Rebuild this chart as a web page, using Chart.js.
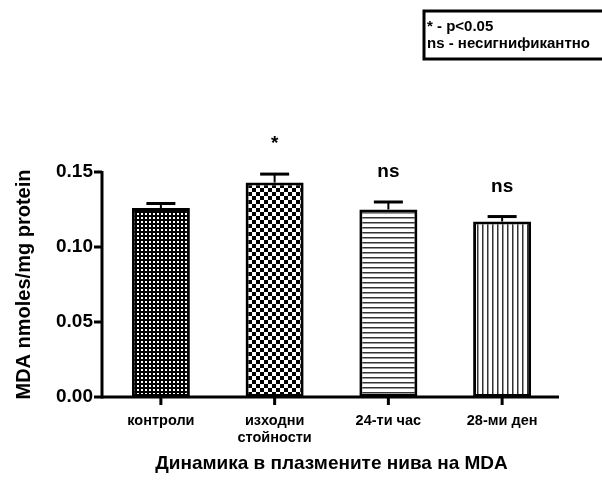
<!DOCTYPE html>
<html>
<head>
<meta charset="utf-8">
<script src="https://cdn.jsdelivr.net/npm/chart.js@4"></script>
<style>
  html, body { margin: 0; padding: 0; background: #fff; }
  #wrap { width: 602px; height: 497px; }
</style>
</head>
<body>
<div id="wrap"><canvas id="mdaChart" width="602" height="497"></canvas></div>
<script>
// chart data
const categories = [['контроли'], ['изходни', 'стойности'], ['24-ти час'], ['28-ми ден']];
const means = [0.126, 0.143, 0.125, 0.117];
const sems = [0.003, 0.0056, 0.005, 0.0033];
const marks = ['', '*', 'ns', 'ns'];
const yTicks = [0, 0.05, 0.10, 0.15];
const legendLines = ['* - p<0.05', 'ns - несигнификантно'];

const FONT = 'Arial, "Liberation Sans", sans-serif';

// fill patterns like the GraphPad bars
function makePattern(size, draw) {
  const c = document.createElement('canvas');
  c.width = size;
  c.height = size;
  const g = c.getContext('2d');
  draw(g, size);
  return g.createPattern(c, 'repeat');
}

const patterns = [
  // fine dotted
  makePattern(4, (g) => {
    g.fillStyle = '#000';
    g.fillRect(0, 0, 4, 4);
    g.fillStyle = '#fff';
    g.fillRect(1, 1, 2, 2);
  }),
  // checkerboard
  makePattern(8, (g) => {
    g.fillStyle = '#fff';
    g.fillRect(0, 0, 8, 8);
    g.fillStyle = '#000';
    g.fillRect(0, 0, 4, 4);
    g.fillRect(4, 4, 4, 4);
  }),
  // horizontal lines
  makePattern(5, (g) => {
    g.fillStyle = '#fff';
    g.fillRect(0, 0, 5, 5);
    g.fillStyle = '#333';
    g.fillRect(0, 2, 5, 1.5);
  }),
  // vertical lines
  makePattern(5, (g) => {
    g.fillStyle = '#fff';
    g.fillRect(0, 0, 5, 5);
    g.fillStyle = '#333';
    g.fillRect(2, 0, 1.5, 5);
  })
];

// axes, error bars, marks and the legend box
const extrasPlugin = {
  id: 'extras',
  afterDatasetsDraw(chart) {
    const ctx = chart.ctx;
    const x = chart.scales.x;
    const y = chart.scales.y;
    const meta = chart.getDatasetMeta(0);
    const axisX = chart.chartArea.left - 2;
    const y0 = y.getPixelForValue(0);

    ctx.save();
    ctx.strokeStyle = '#000';

    // error bars (upper half only)
    meta.data.forEach((bar, i) => {
      const top = y.getPixelForValue(means[i] + sems[i]);
      const half = bar.width / 4;
      ctx.lineWidth = 2;
      ctx.beginPath();
      ctx.moveTo(bar.x, bar.y);
      ctx.lineTo(bar.x, top);
      ctx.stroke();
      ctx.lineWidth = 3;
      ctx.beginPath();
      ctx.moveTo(bar.x - half, top);
      ctx.lineTo(bar.x + half, top);
      ctx.stroke();

      if (marks[i]) {
        ctx.fillStyle = '#000';
        ctx.font = 'bold 19px ' + FONT;
        ctx.textAlign = 'center';
        ctx.textBaseline = 'middle';
        ctx.fillText(marks[i], bar.x, top - 30);
      }
    });

    // y axis line + ticks
    ctx.lineWidth = 3;
    ctx.beginPath();
    ctx.moveTo(axisX, y.getPixelForValue(yTicks[yTicks.length - 1]) - 1);
    ctx.lineTo(axisX, y0 + 1.5);
    ctx.stroke();
    yTicks.forEach((v) => {
      const py = y.getPixelForValue(v);
      ctx.beginPath();
      ctx.moveTo(axisX - 8, py);
      ctx.lineTo(axisX, py);
      ctx.stroke();
    });

    // x axis line + ticks
    ctx.beginPath();
    ctx.moveTo(axisX, y0);
    ctx.lineTo(chart.chartArea.right, y0);
    ctx.stroke();
    categories.forEach((c, i) => {
      const px = x.getPixelForTick(i);
      ctx.beginPath();
      ctx.moveTo(px, y0);
      ctx.lineTo(px, y0 + 8);
      ctx.stroke();
    });

    // legend box (right edge runs off the picture)
    ctx.lineWidth = 3;
    ctx.strokeRect(424, 11, 190, 48);
    ctx.fillStyle = '#000';
    ctx.font = 'bold 15px ' + FONT;
    ctx.textAlign = 'left';
    ctx.textBaseline = 'middle';
    legendLines.forEach((t, i) => {
      ctx.fillText(t, 427, 27 + i * 17);
    });
    ctx.restore();
  }
};

new Chart(document.getElementById('mdaChart'), {
  type: 'bar',
  data: {
    labels: categories,
    datasets: [{
      data: means,
      backgroundColor: patterns,
      borderColor: '#000',
      borderWidth: 3,
      borderSkipped: false,
      categoryPercentage: 1,
      barPercentage: 0.51
    }]
  },
  options: {
    responsive: false,
    animation: false,
    events: [],
    layout: {
      padding: { top: 172, right: 43, bottom: 0, left: 0 }
    },
    plugins: {
      legend: { display: false },
      tooltip: { enabled: false }
    },
    scales: {
      x: {
        offset: true,
        grid: { display: false, drawTicks: false },
        border: { display: false },
        ticks: {
          color: '#000',
          padding: 15,
          font: { family: FONT, size: 14.5, weight: 'bold' }
        },
        title: {
          display: true,
          text: 'Динамика в плазмените нива на MDA',
          color: '#000',
          font: { family: FONT, size: 19, weight: 'bold' },
          padding: { top: 0, bottom: 22 }
        },
        afterFit(scale) {
          scale.height = 100;
        }
      },
      y: {
        min: 0,
        max: 0.15,
        grid: { display: false, drawTicks: false },
        border: { display: false },
        afterBuildTicks(scale) {
          scale.ticks = yTicks.map((v) => ({ value: v }));
        },
        ticks: {
          color: '#000',
          padding: 11,
          font: { family: FONT, size: 19, weight: 'bold' },
          callback: (v) => v.toFixed(2)
        },
        title: {
          display: true,
          text: 'MDA nmoles/mg protein',
          color: '#000',
          font: { family: FONT, size: 20, weight: 'bold' },
          padding: { top: 12, bottom: 0 }
        },
        afterFit(scale) {
          scale.width = 104;
        }
      }
    }
  },
  plugins: [extrasPlugin]
});
</script>
</body>
</html>
